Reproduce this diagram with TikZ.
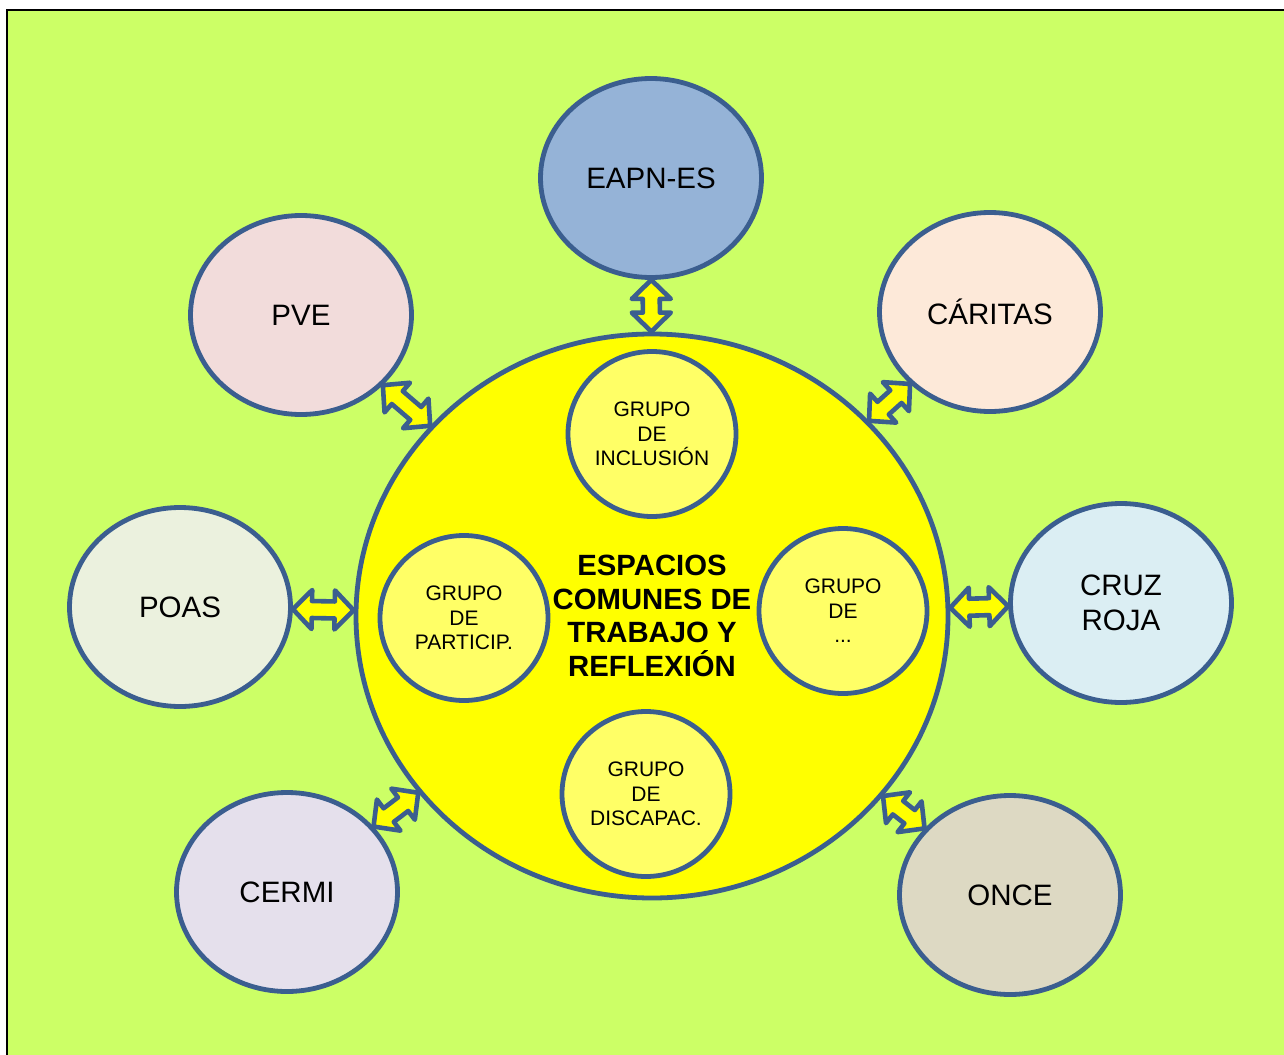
\documentclass[tikz,border=0pt]{standalone}
\usepackage{fontspec}
\setmainfont{Liberation Sans}
\usetikzlibrary{shapes.geometric,calc}
\definecolor{bg}{HTML}{CCFF66}
\definecolor{edge}{HTML}{3B5E8F}
\definecolor{bigfill}{HTML}{FFFF00}
\definecolor{innerfill}{HTML}{FFFF66}
\definecolor{ceapn}{HTML}{95B3D7}
\definecolor{cpve}{HTML}{F2DCDB}
\definecolor{ccaritas}{HTML}{FDE9D9}
\definecolor{cpoas}{HTML}{EBF1DE}
\definecolor{ccruz}{HTML}{DBEEF3}
\definecolor{ccermi}{HTML}{E5E0EC}
\definecolor{conce}{HTML}{DDD9C3}
\tikzset{
  orgbox/.style={ellipse, draw=edge, line width=4.8pt, inner sep=0pt,
    minimum width=221pt, minimum height=199pt, align=center,
    font=\fontsize{29.5}{35}\selectfont},
  groupbox/.style={ellipse, draw=edge, line width=4.8pt, inner sep=0pt,
    fill=innerfill, minimum width=168pt, minimum height=165pt, align=center,
    font=\fontsize{21}{24.5}\selectfont},
  bigbox/.style={ellipse, draw=edge, line width=4.8pt, inner sep=0pt,
    fill=bigfill, minimum width=592pt, minimum height=564pt, align=center,
    font=\bfseries\fontsize{29.3}{33.7}\selectfont},
  blockarrow/.style={draw=edge, fill=bigfill, line width=4.6pt, line join=round},
}
\newcommand\headlen{19pt}
\newcommand\headw{19.5pt}
\newcommand\shaftw{8.5pt}
\newcommand\linkarrow[2]{%
  \path (#1) -- coordinate[pos=0] (#1-#2-a) coordinate[pos=1] (#1-#2-b) (#2);
  \coordinate (#1-#2-ha) at ($(#1-#2-a)!\headlen!(#1-#2-b)$);
  \coordinate (#1-#2-hb) at ($(#1-#2-b)!\headlen!(#1-#2-a)$);
  \draw[blockarrow] (#1-#2-a)
    -- ($(#1-#2-ha)!\headw!90:(#1-#2-b)$)
    -- ($(#1-#2-ha)!\shaftw!90:(#1-#2-b)$)
    -- ($(#1-#2-hb)!\shaftw!-90:(#1-#2-a)$)
    -- ($(#1-#2-hb)!\headw!-90:(#1-#2-a)$)
    -- (#1-#2-b)
    -- ($(#1-#2-hb)!\headw!90:(#1-#2-a)$)
    -- ($(#1-#2-hb)!\shaftw!90:(#1-#2-a)$)
    -- ($(#1-#2-ha)!\shaftw!-90:(#1-#2-b)$)
    -- ($(#1-#2-ha)!\headw!-90:(#1-#2-b)$)
    -- cycle;
}
\begin{document}
\begin{tikzpicture}[x=1pt,y=-1pt]
\useasboundingbox (0,0) rectangle (1284,1054);
\fill[white] (0,0) rectangle (1284,1054);
\draw[black, line width=2pt, fill=bg] (7,10) rectangle (1300,1070);

\node[bigbox] (big) at (652,616) {ESPACIOS\\COMUNES DE\\TRABAJO Y\\REFLEXIÓN};

\node[groupbox] (incl) at (652,434) {GRUPO\\DE\\INCLUSIÓN};
\node[groupbox] (part) at (464,618) {GRUPO\\DE\\PARTICIP.};
\node[groupbox] (etc) at (843,611) {GRUPO\\DE\\...};
\node[groupbox] (disc) at (646,794) {GRUPO\\DE\\DISCAPAC.};

\node[orgbox, fill=ceapn] (eapn) at (651,178) {EAPN-ES};
\node[orgbox, fill=cpve] (pve) at (301,315) {PVE};
\node[orgbox, fill=ccaritas] (caritas) at (990,312) {CÁRITAS};
\node[orgbox, fill=cpoas] (poas) at (180,607) {POAS};
\node[orgbox, fill=ccruz] (cruz) at (1121,603) {CRUZ\\ROJA};
\node[orgbox, fill=ccermi] (cermi) at (287,892) {CERMI};
\node[orgbox, fill=conce] (once) at (1010,895) {ONCE};

\linkarrow{eapn}{big}
\linkarrow{pve}{big}
\linkarrow{caritas}{big}
\linkarrow{poas}{big}
\linkarrow{cruz}{big}
\linkarrow{cermi}{big}
\linkarrow{once}{big}
\end{tikzpicture}
\end{document}
